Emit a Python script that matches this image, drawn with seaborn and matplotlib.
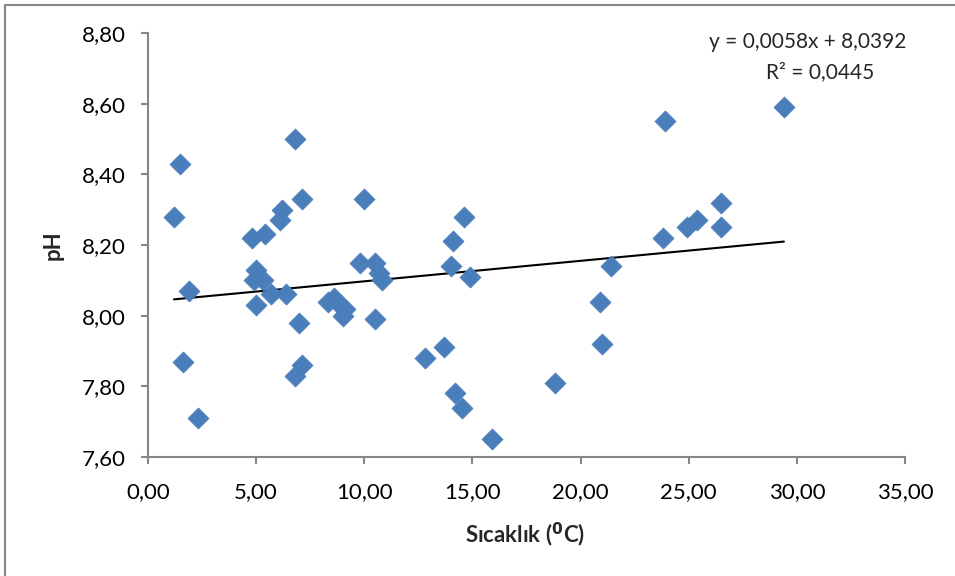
import matplotlib
matplotlib.use("Agg")
import matplotlib.pyplot as plt
import seaborn as sns
import numpy as np
import pandas as pd
from matplotlib.lines import Line2D
from matplotlib.ticker import FuncFormatter, MultipleLocator

temperature = [1.2, 1.5, 1.9, 1.6, 2.3, 4.8, 5.0, 4.9, 5.3, 5.0,
               5.4, 5.7, 6.2, 6.1, 6.4, 6.8, 7.1, 7.0, 6.8, 7.1,
               8.3, 8.6, 8.9, 9.0, 9.1, 9.8, 10.0, 10.5, 10.7, 10.8,
               10.5, 12.8, 13.7, 14.1, 14.0, 14.6, 14.9, 14.2, 14.5, 15.9,
               18.8, 20.9, 21.0, 21.4, 23.8, 23.9, 24.9, 25.4, 26.5, 26.5,
               29.4]
ph = [8.28, 8.43, 8.07, 7.87, 7.71, 8.22, 8.13, 8.10, 8.10, 8.03,
      8.23, 8.06, 8.30, 8.27, 8.06, 8.50, 8.33, 7.98, 7.83, 7.86,
      8.04, 8.05, 8.03, 8.00, 8.02, 8.15, 8.33, 8.15, 8.12, 8.10,
      7.99, 7.88, 7.91, 8.21, 8.14, 8.28, 8.11, 7.78, 7.74, 7.65,
      7.81, 8.04, 7.92, 8.14, 8.22, 8.55, 8.25, 8.27, 8.32, 8.25,
      8.59]
slope = 0.0058
intercept = 8.0392
r_squared = 0.0445

df = pd.DataFrame({"x": temperature, "y": ph})
xs = np.array([min(temperature), max(temperature)])
trend = pd.DataFrame({"x": xs, "y": slope * xs + intercept})

sns.set_theme(style="white")
plt.rcParams["font.family"] = ["Lato", "DejaVu Sans"]

W, H = 955, 576
fig = plt.figure(figsize=(W / 100, H / 100), dpi=100)
ax = fig.add_axes([148 / W, 1 - 457 / H, (905 - 148) / W, (457 - 33) / H])

sns.scatterplot(data=df, x="x", y="y", ax=ax, marker="D", s=115,
                color="#4A7EBB", edgecolor="#4A7EBB", linewidth=0.5, zorder=3)
sns.lineplot(data=trend, x="x", y="y", ax=ax, color="black", linewidth=1.5, zorder=2)

ax.set_xlim(0, 35)
ax.set_ylim(7.60, 8.80)
ax.xaxis.set_major_locator(MultipleLocator(5))
ax.yaxis.set_major_locator(MultipleLocator(0.2))
fmt = FuncFormatter(lambda v, p: f"{v:.2f}".replace(".", ","))
ax.xaxis.set_major_formatter(fmt)
ax.yaxis.set_major_formatter(fmt)

for side in ["top", "right"]:
    ax.spines[side].set_visible(False)
for side in ["left", "bottom"]:
    ax.spines[side].set_color("#868686")
    ax.spines[side].set_linewidth(1.5)
ax.tick_params(axis="both", direction="out", length=5, width=1.5, color="#868686",
               labelsize=16, labelcolor="black", bottom=True, left=True)
ax.tick_params(axis="y", pad=11)
ax.tick_params(axis="x", pad=13)

ax.set_xlabel("Sıcaklık ($\\mathbf{^0}$C)", fontsize=16, fontweight="bold", va="center")
ax.set_ylabel("pH", fontsize=16, fontweight="bold", va="center")
ax.xaxis.set_label_coords((525 - 148) / 757, (457 - 535) / 424)
ax.yaxis.set_label_coords((53 - 148) / 757, 0.5)

fig.text(808 / W, 1 - 42 / H, "y = 0,0058x + 8,0392", fontsize=15, ha="center", va="center")
fig.text(820 / W, 1 - 72 / H, f"R² = {r_squared:.4f}".replace(".", ","), fontsize=15,
         ha="center", va="center")

fig.add_artist(Line2D([5 / W, 5 / W], [0, 1 - 5 / H], transform=fig.transFigure,
                      color="#868686", linewidth=1.5))
fig.add_artist(Line2D([5 / W, 1], [1 - 5 / H, 1 - 5 / H], transform=fig.transFigure,
                      color="#868686", linewidth=1.5))

fig.savefig("out.png", dpi=100)
